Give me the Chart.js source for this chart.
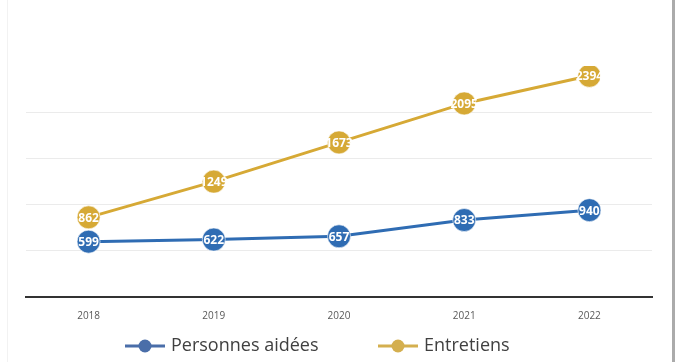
<!DOCTYPE html>
<html lang="fr">
<head>
<meta charset="utf-8">
<title>Personnes aidées et entretiens</title>
<script src="https://cdn.jsdelivr.net/npm/chart.js@4.4.1/dist/chart.umd.min.js"></script>
<style>
  html, body { margin: 0; padding: 0; background: #fff; }
  #wrap { position: relative; width: 675px; height: 362px; }
  #wrap::before { content: ""; position: absolute; left: 7px; top: 0; bottom: 0; width: 1px; background: #f2f2f2; }
  #wrap::after { content: ""; position: absolute; right: 0; top: 0; bottom: 0; width: 3px; background: #ababab; }
</style>
</head>
<body>
<div id="wrap"><canvas id="chart" width="675" height="362"></canvas></div>
<script>
// Years and yearly counts
const years = ["2018", "2019", "2020", "2021", "2022"];
const personnesAidees = [599, 622, 657, 833, 940];
const entretiens = [862, 1249, 1673, 2095, 2394];
const yTicks = [0, 500, 1000, 1500, 2000, 2500];

const BLUE = "#2f6cb3";
const GOLD = "#d6a935";
const LEGEND_BLUE = "#4a6ea9";
const LEGEND_GOLD = "#d4af4f";

// White value labels drawn in the middle of each point
const valueLabels = {
  id: "valueLabels",
  afterDatasetsDraw(chart) {
    const ctx = chart.ctx;
    ctx.save();
    ctx.font = "bold 12px 'Open Sans', sans-serif";
    ctx.fillStyle = "#fff";
    ctx.textAlign = "center";
    ctx.textBaseline = "middle";
    chart.data.datasets.forEach((ds, i) => {
      chart.getDatasetMeta(i).data.forEach((pt, j) => {
        ctx.fillText(String(ds.data[j]), pt.x, pt.y + 1);
      });
    });
    ctx.restore();
  },
};

// Legend under the axis: a short line with a dot, then the series name
const lineLegend = {
  id: "lineLegend",
  afterDraw(chart) {
    const ctx = chart.ctx;
    const items = [
      { x: 125, label: chart.data.datasets[0].label, color: LEGEND_BLUE },
      { x: 378, label: chart.data.datasets[1].label, color: LEGEND_GOLD },
    ];
    const y = 346;
    ctx.save();
    ctx.font = "18px 'Open Sans', sans-serif";
    ctx.textBaseline = "middle";
    items.forEach((it) => {
      ctx.strokeStyle = it.color;
      ctx.lineWidth = 3;
      ctx.beginPath();
      ctx.moveTo(it.x, y);
      ctx.lineTo(it.x + 40, y);
      ctx.stroke();
      ctx.fillStyle = it.color;
      ctx.beginPath();
      ctx.arc(it.x + 20, y, 6.5, 0, Math.PI * 2);
      ctx.fill();
      ctx.fillStyle = "#404040";
      ctx.fillText(it.label, it.x + 46, y);
    });
    ctx.restore();
  },
};

new Chart(document.getElementById("chart"), {
  type: "line",
  data: {
    labels: years,
    datasets: [
      {
        label: "Personnes aidées",
        data: personnesAidees,
        borderColor: BLUE,
        backgroundColor: BLUE,
        pointBackgroundColor: BLUE,
        pointBorderColor: "rgba(255,255,255,0.6)",
        pointBorderWidth: 1,
        borderWidth: 3,
        pointRadius: 11.5,
        tension: 0,
      },
      {
        label: "Entretiens",
        data: entretiens,
        borderColor: GOLD,
        backgroundColor: GOLD,
        pointBackgroundColor: GOLD,
        pointBorderColor: "rgba(255,255,255,0.6)",
        pointBorderWidth: 1,
        borderWidth: 3,
        pointRadius: 11.5,
        tension: 0,
      },
    ],
  },
  options: {
    responsive: false,
    animation: false,
    layout: { padding: { left: 26, right: 23, top: 66, bottom: 27 } },
    plugins: {
      legend: { display: false },
      tooltip: { enabled: false },
    },
    scales: {
      x: {
        offset: true,
        grid: { display: false, drawTicks: false, offset: true },
        border: { display: true, color: "#333", width: 2 },
        ticks: {
          color: "#595959",
          padding: 13,
          font: { family: "'Open Sans', sans-serif", size: 10 },
        },
      },
      y: {
        min: yTicks[0],
        max: yTicks[yTicks.length - 1],
        afterBuildTicks(scale) {
          scale.ticks = yTicks.map((v) => ({ value: v }));
        },
        ticks: { display: false },
        border: { display: false },
        grid: {
          drawTicks: false,
          lineWidth: 1,
          color: (c) =>
            c.tick && (c.tick.value === 0 || c.tick.value === 2500)
              ? "rgba(0,0,0,0)"
              : "#ebebeb",
        },
      },
    },
  },
  plugins: [valueLabels, lineLegend],
});
</script>
</body>
</html>
